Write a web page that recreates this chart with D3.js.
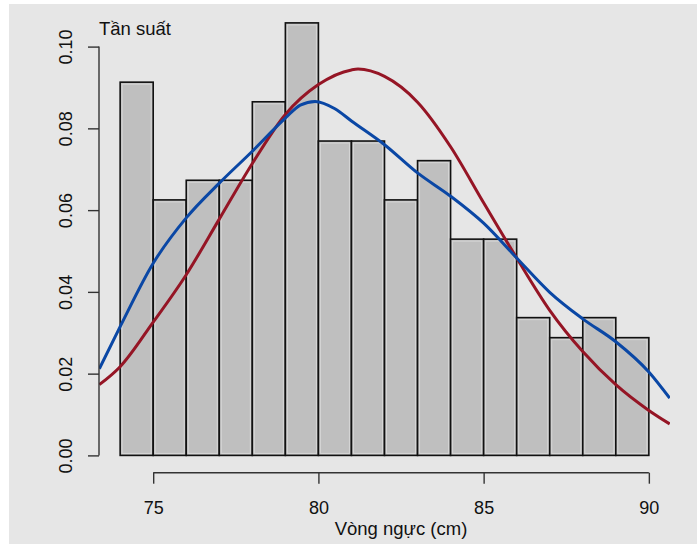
<!DOCTYPE html>
<html>
<head>
<meta charset="utf-8">
<script src="https://cdn.jsdelivr.net/npm/d3@7"></script>
<style>
  html, body { margin: 0; padding: 0; background: #ffffff; }
  svg { display: block; }
  text { font-family: "Liberation Sans", Arial, Helvetica, sans-serif; fill: #111; }
</style>
</head>
<body>
<svg id="chart" width="697" height="544"></svg>
<script>
// ---- data ----
const binStarts = [74, 75, 76, 77, 78, 79, 80, 81, 82, 83, 84, 85, 86, 87, 88, 89];
const binWidth = 1;
const density = [0.0913, 0.0625, 0.0673, 0.0673, 0.0865, 0.1058, 0.0769, 0.0769,
                 0.0625, 0.0721, 0.0529, 0.0529, 0.0337, 0.0288, 0.0337, 0.0288];

// kernel density curve (blue)
const kdeX = [73.37, 74, 75, 76, 77, 78, 79, 79.45, 79.9, 80.5, 81, 82, 83, 84, 85, 86, 87, 88, 89, 90, 90.63];
const kdeY = [0.0212, 0.0315, 0.0470, 0.0581, 0.0666, 0.0744, 0.0825, 0.0857, 0.0866, 0.0848, 0.0818, 0.0760,
              0.0691, 0.0634, 0.0568, 0.0483, 0.0399, 0.0334, 0.0278, 0.0204, 0.0140];

// normal curve (red)
const normX = [73.37, 74, 75, 76, 77, 78, 79, 80, 81, 81.2, 82, 83, 84, 85, 86, 87, 88, 89, 90, 90.63];
const normY = [0.0173, 0.0217, 0.0326, 0.0442, 0.0578, 0.0714, 0.0834, 0.0907, 0.0943, 0.0945, 0.0927,
               0.0864, 0.0755, 0.0618, 0.0483, 0.0355, 0.0254, 0.0173, 0.0110, 0.0077];

const xTicks = [75, 80, 85, 90];
const yTicks = [0.00, 0.02, 0.04, 0.06, 0.08, 0.10];
const yLabel = "Tần suất";
const xLabel = "Vòng ngực (cm)";

// ---- layout ----
const svg = d3.select("#chart");
svg.append("rect").attr("x", 9).attr("y", 4).attr("width", 697 - 9).attr("height", 544 - 4)
  .attr("fill", "#e6e6e6");

const x = d3.scaleLinear().domain([73.36, 90.64]).range([99, 670]);
const y = d3.scaleLinear().domain([0, 0.10]).range([455.4, 46.6]);
const yBottom = y(-0.04 * d3.max(density));
const xLeft = x.range()[0];

svg.append("clipPath").attr("id", "plotclip").append("rect")
  .attr("x", xLeft).attr("y", 0).attr("width", x.range()[1] - xLeft).attr("height", yBottom);

// bars
const bars = svg.append("g");
bars.selectAll("rect.bar").data(binStarts).join("rect")
  .attr("class", "bar")
  .attr("x", d => x(d))
  .attr("y", (d, i) => y(density[i]))
  .attr("width", d => x(d + binWidth) - x(d))
  .attr("height", (d, i) => y(0) - y(density[i]))
  .attr("fill", "#bfbfbf")
  .attr("stroke", "#111")
  .attr("stroke-width", 1.6);
bars.selectAll("rect.halo").data(binStarts).join("rect")
  .attr("class", "halo")
  .attr("x", d => x(d) + 2)
  .attr("y", (d, i) => y(density[i]) + 2)
  .attr("width", d => x(d + binWidth) - x(d) - 4)
  .attr("height", (d, i) => y(0) - y(density[i]) - 4)
  .attr("fill", "none")
  .attr("stroke", "#d6d6d6")
  .attr("stroke-width", 1);

// curves
const line = d3.line().x(d => x(d[0])).y(d => y(d[1])).curve(d3.curveMonotoneX);
const curves = svg.append("g").attr("clip-path", "url(#plotclip)");
curves.append("path").datum(normX.map((v, i) => [v, normY[i]]))
  .attr("d", line).attr("fill", "none").attr("stroke", "#951525").attr("stroke-width", 3);
curves.append("path").datum(kdeX.map((v, i) => [v, kdeY[i]]))
  .attr("d", line).attr("fill", "none").attr("stroke", "#0a47a5").attr("stroke-width", 3);

// axes
const axisColor = "#333";
const gx = svg.append("g").attr("transform", `translate(0,${yBottom})`)
  .call(d3.axisBottom(x).tickValues(xTicks).tickFormat(d3.format("d")).tickSize(11).tickPadding(16));
gx.select(".domain").remove();
gx.selectAll(".tick line").attr("stroke", axisColor).attr("stroke-width", 1.4);
gx.selectAll(".tick text").attr("font-size", 18).attr("dy", null).attr("y", 41).attr("fill", "#111");
gx.append("line").attr("x1", x(xTicks[0])).attr("x2", x(xTicks[xTicks.length - 1]))
  .attr("y1", 0).attr("y2", 0).attr("stroke", axisColor).attr("stroke-width", 1.4);

const gy = svg.append("g").attr("transform", `translate(${xLeft},0)`)
  .call(d3.axisLeft(y).tickValues(yTicks).tickFormat(d3.format(".2f")).tickSize(11));
gy.select(".domain").remove();
gy.selectAll(".tick line").attr("stroke", axisColor).attr("stroke-width", 1.4);
gy.selectAll(".tick text")
  .attr("font-size", 18).attr("x", null).attr("dy", null)
  .attr("text-anchor", "middle")
  .attr("fill", "#111")
  .attr("transform", `translate(${71.5 - xLeft},0) rotate(-90)`);
gy.append("line").attr("x1", 0).attr("x2", 0)
  .attr("y1", y(yTicks[0])).attr("y2", y(yTicks[yTicks.length - 1]))
  .attr("stroke", axisColor).attr("stroke-width", 1.4);

// labels
svg.append("text").attr("x", xLeft).attr("y", 35).attr("font-size", 18.5).text(yLabel);
svg.append("text").attr("x", 401).attr("y", 535).attr("font-size", 18.5)
  .attr("text-anchor", "middle").text(xLabel);
</script>
</body>
</html>
